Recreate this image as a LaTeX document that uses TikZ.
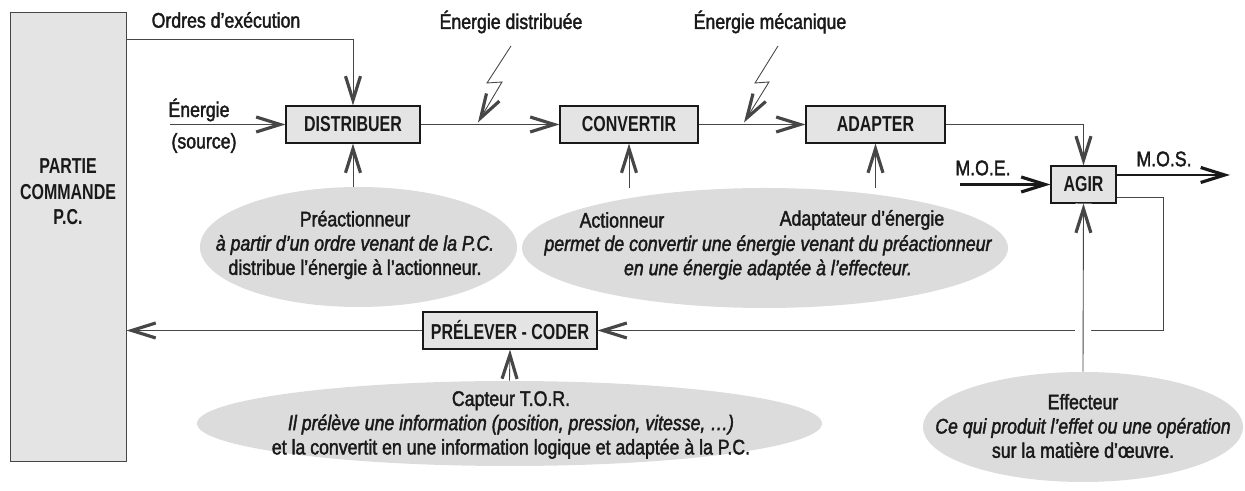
\documentclass[tikz,border=0pt]{standalone}
\usepackage{fontspec}
\setmainfont{Liberation Sans}[FakeStretch=0.84, FakeBold=1.8]
\newfontfamily\boldcond{Liberation Sans}[FakeStretch=0.74]
\usepackage{tikz}
\usetikzlibrary{shapes.geometric, arrows.meta, positioning, calc}
\definecolor{boxgray}{RGB}{228,228,228}
\definecolor{bubblegray}{RGB}{220,220,220}
\definecolor{linegray}{RGB}{70,70,70}
\definecolor{inkblack}{RGB}{25,25,25}

\begin{document}
\begin{tikzpicture}[
    fonction/.style={rectangle, draw=inkblack, line width=0.6pt, fill=boxgray, minimum height=0.74cm, inner sep=0pt, text=inkblack, font=\boldcond\bfseries\fontsize{12.3}{14}\selectfont},
    bulle/.style={ellipse, fill=bubblegray, inner sep=0pt},
    lbl/.style={text=inkblack, font=\fontsize{12}{14}\selectfont},
    expl/.style={align=center, text=inkblack, font=\fontsize{12}{13.8}\selectfont},
    flux/.style={draw=linegray, line width=0.5pt},
    fleche/.style={flux, -{Straight Barb[length=4.8mm, width=3mm, line width=1.8pt]}},
    epais/.style={draw=inkblack, line width=1.4pt, -{Straight Barb[length=4.8mm, width=3mm, line width=1.8pt]}}
]
\useasboundingbox (0,0) rectangle (24.9,9.82);

% Partie commande
\node[draw=linegray, line width=0.5pt, fill=boxgray, minimum width=2.32cm, minimum height=8.98cm] (pc) at (1.36,5.09) {};
\node[align=center, text=inkblack, font=\boldcond\bfseries\fontsize{12.3}{14.5}\selectfont] (pctxt) at (1.36,5.98) {PARTIE\\COMMANDE\\P.C.};

% Chaine d'action
\node[fonction, minimum width=2.68cm] (distrib) at (7.06,7.33) {DISTRIBUER};
\node[fonction, minimum width=2.76cm] (convert) at (12.58,7.33) {CONVERTIR};
\node[fonction, minimum width=2.78cm] (adapt) at (17.51,7.33) {ADAPTER};
\node[fonction, minimum width=1.3cm] (agir) at (21.67,6.13) {AGIR};
\node[fonction, minimum width=3.48cm] (prelev) at (10.2,3.21) {PRÉLEVER - CODER};

% Bulles
\node[bulle, minimum width=6.34cm, minimum height=2.4cm] (preact) at (7.17,4.88) {};
\node[bulle, minimum width=9.72cm, minimum height=2.4cm] (actadp) at (15.3,4.86) {};
\node[bulle, minimum width=12.5cm, minimum height=1.7cm] (capteur) at (10.19,1.35) {};
\node[bulle, minimum width=6.4cm, minimum height=2.2cm] (effect) at (21.66,1.28) {};

\node[expl] (preacttxt) at (7.1,4.92) {Préactionneur\\\itshape à partir d’un ordre venant de la P.C.\\distribue l’énergie à l’actionneur.};
\node[lbl] (actlbl) at (12.44,5.42) {Actionneur};
\node[lbl] (adplbl) at (17.24,5.42) {Adaptateur d’énergie};
\node[expl, font=\itshape\fontsize{12}{13.8}\selectfont] (actadptxt) at (15.36,4.67) {permet de convertir une énergie venant du préactionneur\\en une énergie adaptée à l’effecteur.};
\node[expl] (capteurtxt) at (10.22,1.32) {Capteur T.O.R.\\\itshape Il prélève une information (position, pression, vitesse, \dots)\\et la convertit en une information logique et adaptée à la P.C.};
\node[expl] (effecttxt) at (21.66,1.3) {Effecteur\\\itshape Ce qui produit l’effet ou une opération\\sur la matière d’œuvre.};

% Etiquettes
\node[lbl] (ordreslbl) at (4.52,9.42) {Ordres d’exécution};
\node[lbl] (enlbl) at (3.98,7.62) {Énergie};
\node[lbl] (srclbl) at (4.08,6.96) {(source)};
\node[lbl] (edlbl) at (10.22,9.38) {Énergie distribuée};
\node[lbl] (emlbl) at (15.4,9.38) {Énergie mécanique};
\node[lbl] (moelbl) at (19.66,6.46) {M.O.E.};
\node[lbl] (moslbl) at (23.28,6.64) {M.O.S.};

% Extremites libres
\coordinate (ordres) at (2.52,9.04);
\coordinate (source) at (3.4,7.33);
\coordinate (moe) at (19.2,6.13);
\coordinate (mos) at (24.6,6.32);
\coordinate (retour) at (23.26,3.21);
\coordinate (eclair1) at (9.56,7.37);
\coordinate (eclair2) at (14.88,7.37);

% Liaisons
\draw[fleche] (ordres) -| (distrib.north);
\draw[fleche] (source) -- (distrib.west);
\draw[fleche] (distrib) -- (convert);
\draw[fleche] (convert) -- (adapt);
\draw[fleche] (adapt.east) -| (agir.north);
\draw[epais] (moe) -- (agir.west);
\draw[epais] (mos -| agir.east) -- (mos);
\draw[fleche] ([yshift=-0.25cm]agir.east) -| (retour) -- (prelev.east);
\draw[fleche] (prelev.west) -- (prelev.west -| pc.east);

\draw[fleche] (distrib.south |- preact.north) -- (distrib.south);
\draw[fleche] (convert.south |- actadp.north) -- (convert.south);
\draw[fleche] (adapt.south |- actadp.north) -- (adapt.south);
\draw[fleche] (capteur.north) -- (prelev.south);
\draw[fleche, preaction={draw=white, line width=0.32cm, -}] (effect.north) -- (agir.south);

% Eclairs
\draw[fleche] ($(eclair1)+(0.66,1.53)$) -- ++(-0.48,-0.74) -- ++(0.3,0.02) -- (eclair1);
\draw[fleche] ($(eclair2)+(0.68,1.53)$) -- ++(-0.46,-0.74) -- ++(0.28,0.02) -- (eclair2);
\end{tikzpicture}
\end{document}
